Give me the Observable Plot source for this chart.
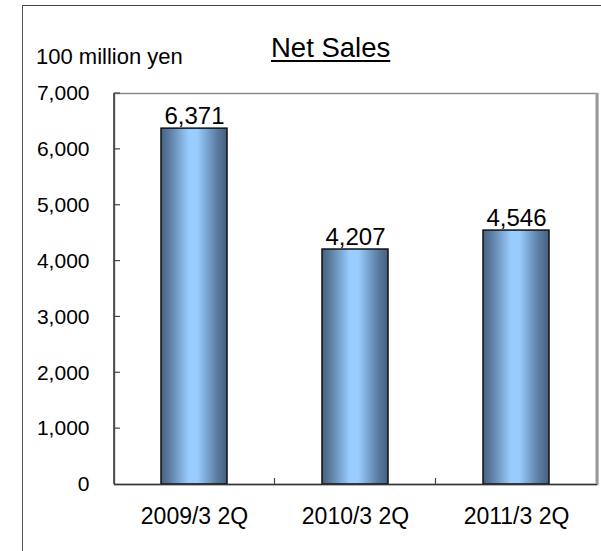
<!DOCTYPE html>
<html>
<head>
<meta charset="utf-8">
<script src="https://cdn.jsdelivr.net/npm/d3@7"></script>
<script src="https://cdn.jsdelivr.net/npm/@observablehq/plot@0.6"></script>
<style>
  html, body { margin: 0; padding: 0; background: #fff; }
  #wrap { position: relative; width: 601px; height: 551px; overflow: hidden; font-family: "Liberation Sans", Arial, sans-serif; }
  #outer { position: absolute; left: 22px; top: 5px; width: 700px; height: 700px; border-left: 1.5px solid #555; border-top: 1.5px solid #444; }
  #unit { position: absolute; left: 36px; top: 44px; font-size: 22px; color: #000; white-space: nowrap; }
  #title { position: absolute; left: 271px; top: 32px; font-size: 27.5px; color: #000; text-decoration: underline; text-decoration-thickness: 2px; text-underline-offset: 3px; white-space: nowrap; }
  #chart { position: absolute; left: 0; top: 0; }
</style>
</head>
<body>
<div id="wrap">
  <div id="outer"></div>
  <div id="unit">100 million yen</div>
  <div id="title">Net Sales</div>
  <div id="chart"></div>
</div>
<script>
const categories = ["2009/3 2Q", "2010/3 2Q", "2011/3 2Q"];
const netSales = [6371, 4207, 4546];
const yTicks = [0, 1000, 2000, 3000, 4000, 5000, 6000, 7000];

const data = categories.map((c, i) => ({cat: c, value: netSales[i]}));

const gradientDefs = () => {
  const defs = d3.create("svg:defs");
  const g = defs.append("linearGradient").attr("id", "barGrad").attr("x1", "0").attr("x2", "1").attr("y1", "0").attr("y2", "0");
  [[0, "#46617e"], [0.15, "#6083a9"], [0.42, "#99ccff"], [0.55, "#99ccff"], [0.85, "#5a7ca1"], [1, "#46607d"]]
    .forEach(([o, c]) => g.append("stop").attr("offset", o).attr("stop-color", c));
  return defs.node();
};

const innerTicks = (index, scales, values, dims) => {
  const g = d3.create("svg:g").attr("stroke", "#444").attr("stroke-width", 1.2);
  const {marginLeft, marginTop, height, marginBottom} = dims;
  const y = scales.y, x = scales.x;
  g.append("line").attr("x1", marginLeft).attr("x2", marginLeft).attr("y1", marginTop).attr("y2", height - marginBottom).attr("stroke", "#333").attr("stroke-width", 1.5);
  yTicks.slice(1).forEach(t => {
    g.append("line").attr("x1", marginLeft).attr("x2", marginLeft + 6).attr("y1", y(t)).attr("y2", y(t));
  });
  let bw = x.bandwidth;
  if (typeof bw === "function") bw = bw();
  if (typeof bw !== "number") bw = scales.scales && scales.scales.x ? scales.scales.x.bandwidth : 0;
  for (let i = 0; i < categories.length - 1; i++) {
    const b = (x(categories[i]) + x(categories[i + 1])) / 2 + bw / 2;
    g.append("line").attr("x1", b).attr("x2", b).attr("y1", height - marginBottom).attr("y2", height - marginBottom - 6);
  }
  return g.node();
};

const plot = Plot.plot({
  width: 601,
  height: 551,
  marginLeft: 114,
  marginRight: 4,
  marginTop: 93,
  marginBottom: 67,
  style: {fontFamily: "'Liberation Sans', Arial, sans-serif", background: "transparent", overflow: "visible"},
  x: {domain: categories, paddingInner: 0.59, paddingOuter: 0.295, label: null},
  y: {domain: [0, 7000], label: null},
  marks: [
    gradientDefs,
    Plot.frame({stroke: "#8c8c8c", strokeWidth: 1.5}),
    Plot.axisY({ticks: yTicks, tickSize: 0, tickPadding: 25, tickFormat: d3.format(","), fontSize: 21, fill: "#000", label: null}),
    Plot.axisX({tickSize: 0, tickPadding: 23, fontSize: 23, fill: "#000", label: null}),
    Plot.barY(data, {x: "cat", y: "value", fill: "url(#barGrad)", stroke: "#111", strokeWidth: 1.5}),
    Plot.text(data, {x: "cat", y: "value", text: d => d3.format(",")(d.value), lineAnchor: "bottom", dy: -5, fontSize: 24, fill: "#000"}),
    Plot.ruleY([0], {stroke: "#333", strokeWidth: 1.5}),
    innerTicks
  ]
});

document.getElementById("chart").appendChild(plot);
const svg = d3.select(plot);
svg.append("line").attr("x1", 597).attr("x2", 597).attr("y1", 93).attr("y2", 484).attr("stroke", "#999").attr("stroke-width", 3);
</script>
</body>
</html>
